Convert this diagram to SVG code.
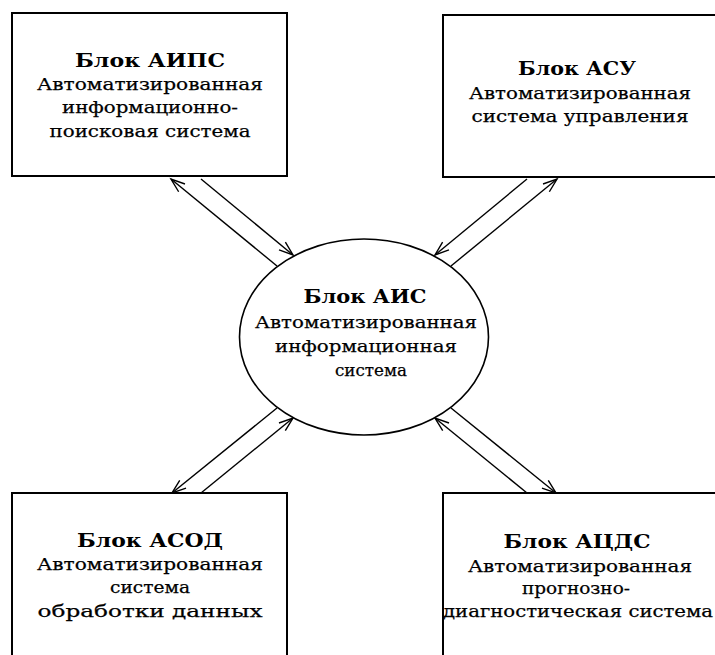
<svg xmlns="http://www.w3.org/2000/svg" width="715" height="655" viewBox="0 0 715 655">
<style>
.box{fill:#fff;stroke:#000;stroke-width:2}
.ell{fill:#fff;stroke:#000;stroke-width:1.6}
.t{font-family:"DejaVu Serif","Liberation Serif",serif;font-size:17px;fill:#000;stroke:#000;stroke-width:0.25;text-anchor:middle}
.h{font-family:"DejaVu Serif","Liberation Serif",serif;font-size:18px;font-weight:bold;fill:#000;text-anchor:middle}
.c{stroke:#000;stroke-width:1.4;fill:none;marker-end:url(#ah)}
</style>
<defs>
<marker id="ah" markerUnits="userSpaceOnUse" markerWidth="20" markerHeight="14" viewBox="-16 -7 20 14" refX="0" refY="0" orient="auto">
<path d="M-14,-5 L0,0 L-14,5" fill="none" stroke="#000" stroke-width="1.4"/>
</marker>
</defs>
<rect width="715" height="655" fill="#fff"/>
<g id="connectors">
<line class="c" x1="277" y1="266" x2="171" y2="179"/>
<line class="c" x1="201" y1="179" x2="293" y2="255"/>
<line class="c" x1="451" y1="266" x2="557" y2="179"/>
<line class="c" x1="527" y1="179" x2="435" y2="255"/>
<line class="c" x1="277" y1="408" x2="172" y2="493"/>
<line class="c" x1="201" y1="493" x2="293" y2="418"/>
<line class="c" x1="451" y1="408" x2="556" y2="493"/>
<line class="c" x1="527" y1="493" x2="435" y2="418"/>
</g>
<g id="aips">
<rect class="box" x="12" y="13" width="275" height="163"/>
<text class="h" x="150" y="67" textLength="150" lengthAdjust="spacingAndGlyphs">Блок АИПС</text>
<text class="t" x="150" y="90" textLength="226" lengthAdjust="spacingAndGlyphs">Автоматизированная</text>
<text class="t" x="150" y="113" textLength="176" lengthAdjust="spacingAndGlyphs">информационно-</text>
<text class="t" x="150" y="137" textLength="201" lengthAdjust="spacingAndGlyphs">поисковая система</text>
</g>
<g id="asu">
<rect class="box" x="443" y="15" width="280" height="162"/>
<text class="h" x="577" y="75" textLength="118" lengthAdjust="spacingAndGlyphs">Блок АСУ</text>
<text class="t" x="580" y="99" textLength="222" lengthAdjust="spacingAndGlyphs">Автоматизированная</text>
<text class="t" x="580" y="122" textLength="217" lengthAdjust="spacingAndGlyphs">система управления</text>
</g>
<g id="ais">
<ellipse class="ell" cx="364" cy="337" rx="124.5" ry="98"/>
<text class="h" x="365" y="303" textLength="123" lengthAdjust="spacingAndGlyphs">Блок АИС</text>
<text class="t" x="366" y="328" textLength="222" lengthAdjust="spacingAndGlyphs">Автоматизированная</text>
<text class="t" x="366" y="352" textLength="182" lengthAdjust="spacingAndGlyphs">информационная</text>
<text class="t" x="371" y="376" textLength="72" lengthAdjust="spacingAndGlyphs">система</text>
</g>
<g id="asod">
<rect class="box" x="12" y="493" width="275" height="180"/>
<text class="h" x="150" y="547" textLength="146" lengthAdjust="spacingAndGlyphs">Блок АСОД</text>
<text class="t" x="150" y="570" textLength="226" lengthAdjust="spacingAndGlyphs">Автоматизированная</text>
<text class="t" x="150" y="593" textLength="80" lengthAdjust="spacingAndGlyphs">система</text>
<text class="t" x="150" y="617" textLength="225" lengthAdjust="spacingAndGlyphs">обработки данных</text>
</g>
<g id="acds">
<rect class="box" x="443" y="493" width="280" height="180"/>
<text class="h" x="577" y="548" textLength="147" lengthAdjust="spacingAndGlyphs">Блок АЦДС</text>
<text class="t" x="580" y="572" textLength="224" lengthAdjust="spacingAndGlyphs">Автоматизированная</text>
<text class="t" x="576" y="594" textLength="108" lengthAdjust="spacingAndGlyphs">прогнозно-</text>
<text class="t" x="578" y="617" textLength="270" lengthAdjust="spacingAndGlyphs">диагностическая система</text>
</g>
</svg>
